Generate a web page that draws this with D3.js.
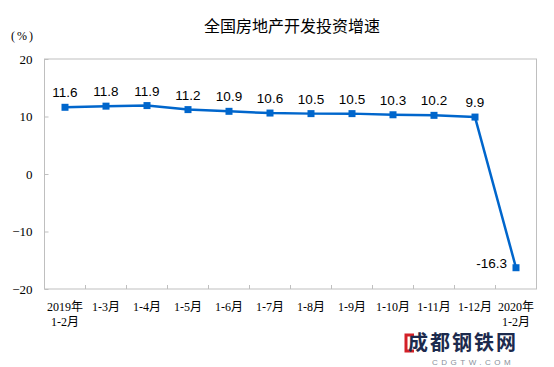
<!DOCTYPE html>
<html><head><meta charset="utf-8">
<script src="https://cdn.jsdelivr.net/npm/d3@7/dist/d3.min.js"></script>
<style>body{margin:0;background:#fff}svg{display:block}</style>
</head><body><svg id="c" width="554" height="367"></svg>
<script>
const title = "全国房地产开发投资增速";
const unitLabel = "(%)";
const categoriesTop = ["2019年","1-3月","1-4月","1-5月","1-6月","1-7月","1-8月","1-9月","1-10月","1-11月","1-12月","2020年"];
const categoriesBottom = ["1-2月","","","","","","","","","","","1-2月"];
const values = [11.6, 11.8, 11.9, 11.2, 10.9, 10.6, 10.5, 10.5, 10.3, 10.2, 9.9, -16.3];
const yTicks = [20, 10, 0, -10, -20];

const svg = d3.select("#c");
const L = 44.5, R = 536.5, T = 59, B = 289;
const x = d3.scaleBand().domain(d3.range(values.length)).range([L, R]);
const y = d3.scaleLinear().domain([-20, 20]).range([B, T]);
const blue = "#0066CC", grid = "#BFBFBF";
const serif = "'Liberation Serif','Times New Roman','Noto Sans CJK SC',serif";
const sans = "'Liberation Sans',Arial,'Noto Sans CJK SC',sans-serif";

svg.append("text").attr("x", 292).attr("y", 32).attr("text-anchor","middle")
  .attr("font-family","'Noto Sans CJK SC',sans-serif").attr("font-size",16).attr("fill","#000").text(title);
svg.append("text").attr("x", 11).attr("y", 40).attr("font-family",serif).attr("font-size",12)
  .attr("letter-spacing",2).attr("fill","#000").text(unitLabel);

// plot border
svg.append("rect").attr("x",L).attr("y",T).attr("width",R-L).attr("height",B-T)
  .attr("fill","none").attr("stroke",grid).attr("stroke-width",1);

// y axis
const ya = svg.append("g").attr("transform",`translate(${L},0)`)
  .call(d3.axisLeft(y).tickValues(yTicks).tickSize(-4).tickPadding(12).tickFormat(d3.format("d")));
ya.select(".domain").remove();
ya.selectAll("line").attr("stroke",grid);
ya.selectAll("text").attr("font-family",serif).attr("font-size",13).attr("fill","#000");

// x axis ticks (inward, at band boundaries)
const bounds = d3.range(1, values.length).map(i => x(i));
svg.append("g").selectAll("line").data(bounds).join("line")
  .attr("x1", d=>d).attr("x2", d=>d).attr("y1", B).attr("y2", B-4).attr("stroke", grid);

const xl = svg.append("g").attr("font-family",serif).attr("font-size",12).attr("fill","#000").attr("text-anchor","middle");
xl.selectAll("text.t").data(categoriesTop).join("text").attr("class","t")
  .attr("x",(d,i)=>x(i)+x.bandwidth()/2).attr("y",311).text(d=>d);
xl.selectAll("text.b").data(categoriesBottom).join("text").attr("class","b")
  .attr("x",(d,i)=>x(i)+x.bandwidth()/2).attr("y",326).text(d=>d);

// line
const line = d3.line().x((d,i)=>x(i)+x.bandwidth()/2).y(d=>y(d));
svg.append("path").datum(values).attr("d",line).attr("fill","none")
  .attr("stroke",blue).attr("stroke-width",2.5).attr("stroke-linejoin","round");
svg.append("g").selectAll("rect").data(values).join("rect")
  .attr("x",(d,i)=>x(i)+x.bandwidth()/2-3.5).attr("y",d=>y(d)-3.5)
  .attr("width",7).attr("height",7).attr("fill",blue);

// data labels
svg.append("g").attr("font-family",sans).attr("font-size",13.5).attr("fill","#000")
  .selectAll("text").data(values).join("text")
  .attr("text-anchor",d=>d<0?"end":"middle")
  .attr("x",(d,i)=>x(i)+x.bandwidth()/2 + (d<0?-9:0))
  .attr("y",d=>d<0?y(d):y(d)-10)
  .text(d=>d.toFixed(1));

// watermark
const wm = svg.append("g");
wm.append("path").attr("d","M414,335 h-8 v16 h8").attr("fill","none").attr("stroke","#d32027").attr("stroke-width",3);
wm.append("text").attr("x",408).attr("y",350).attr("font-family","'Noto Sans CJK SC',sans-serif")
  .attr("font-weight","bold").attr("font-size",20).attr("fill","#1c2a4d").attr("letter-spacing",2).text("成都钢铁网");
wm.append("text").attr("x",432).attr("y",365).attr("font-family",sans).attr("font-size",8)
  .attr("fill","#8a8f9a").attr("letter-spacing",3.5).text("CDGTW.COM");
</script></body></html>
